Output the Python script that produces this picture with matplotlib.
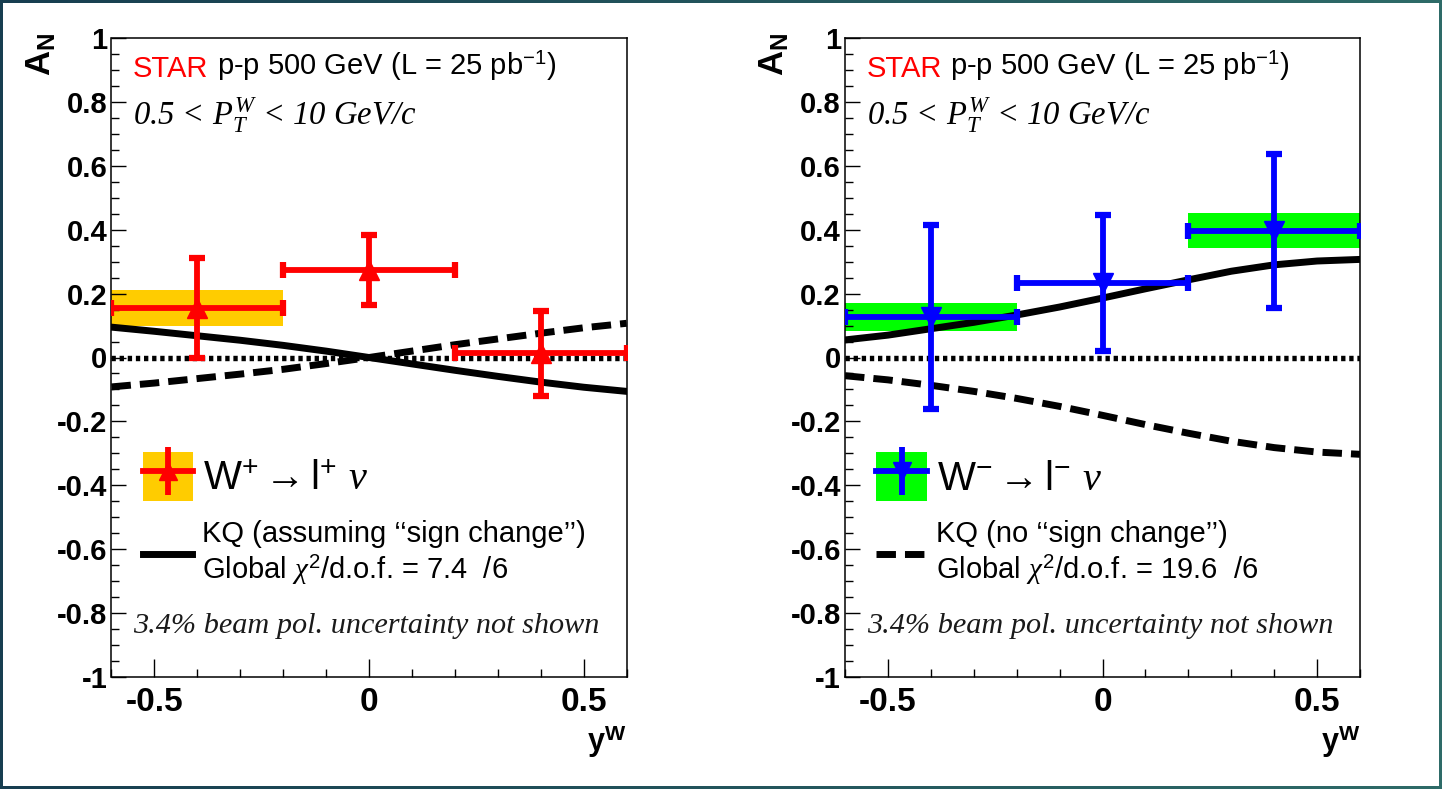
import matplotlib

matplotlib.use("Agg")
import matplotlib.pyplot as plt  # noqa: E402
import numpy as np  # noqa: E402
from matplotlib.colors import LinearSegmentedColormap  # noqa: E402
from matplotlib.lines import Line2D  # noqa: E402
from matplotlib.patches import Patch, Rectangle  # noqa: E402
from matplotlib.ticker import MultipleLocator  # noqa: E402

plt.rcParams["font.family"] = ["Liberation Sans", "DejaVu Sans"]
plt.rcParams["mathtext.fontset"] = "custom"
plt.rcParams["mathtext.rm"] = "Liberation Sans"
plt.rcParams["mathtext.it"] = "Liberation Serif:italic"
plt.rcParams["mathtext.bf"] = "Liberation Sans:bold"
plt.rcParams["axes.unicode_minus"] = False

# W rapidity bins
y_centers = [-0.4, 0.0, 0.4]
y_halfwidth = [0.2, 0.2, 0.2]

# W+ -> l+ nu : A_N, stat. and syst. uncertainties
wp_an = [0.155, 0.274, 0.014]
wp_stat = [0.155, 0.110, 0.133]
wp_sys = [0.055, 0.006, 0.006]

# W- -> l- nu
wm_an = [0.127, 0.233, 0.397]
wm_stat = [0.288, 0.213, 0.241]
wm_sys = [0.045, 0.006, 0.055]

# KQ predictions with / without sign change
kq_rapidity = [-0.6, -0.5, -0.4, -0.3, -0.2, -0.1, 0.0, 0.1, 0.2, 0.3, 0.4, 0.5, 0.6]
wp_kq_sign = [0.095, 0.082, 0.068, 0.054, 0.038, 0.020, 0.000,
              -0.020, -0.040, -0.059, -0.077, -0.093, -0.106]
wp_kq_nosign = [-0.092, -0.080, -0.066, -0.052, -0.037, -0.019, 0.000,
                0.020, 0.040, 0.058, 0.076, 0.093, 0.107]
wm_kq_sign = [0.055, 0.070, 0.090, 0.110, 0.133, 0.158, 0.186,
              0.215, 0.243, 0.270, 0.290, 0.302, 0.307]
wm_kq_nosign = [-0.057, -0.070, -0.087, -0.106, -0.128, -0.153, -0.181,
                -0.210, -0.237, -0.262, -0.282, -0.296, -0.303]

x_ticks = [-0.5, 0.0, 0.5]
x_tick_labels = ["-0.5", "0", "0.5"]
y_ticks = [-1.0, -0.8, -0.6, -0.4, -0.2, 0.0, 0.2, 0.4, 0.6, 0.8, 1.0]
y_tick_labels = ["-1", "-0.8", "-0.6", "-0.4", "-0.2", "0", "0.2", "0.4", "0.6", "0.8", "1"]

W, H = 1442, 789


def draw_panel(ax, an, stat, sys, color, marker, band, sign, nosign,
               boson_label, kq_label, kq_dashed):
    an = np.asarray(an)
    sys = np.asarray(sys)
    ax.bar(y_centers, 2 * sys, width=2 * np.asarray(y_halfwidth), bottom=an - sys,
           color=band, linewidth=0, zorder=1)
    solid, = ax.plot(kq_rapidity, sign, color="black", lw=5.0, zorder=2)
    dashed, = ax.plot(kq_rapidity, nosign, color="black", lw=5.0,
                      ls=(0, (2.8, 1.3)), zorder=2)
    ax.axhline(0, color="black", lw=3.9, ls=(0, (0.8, 0.7)), zorder=2)
    ax.errorbar(y_centers, an, xerr=y_halfwidth, yerr=stat, fmt=marker, color=color,
                ms=14, elinewidth=4.2, capsize=6.0, capthick=4.5, zorder=3)

    ax.set_xlim(-0.6, 0.6)
    ax.set_ylim(-1, 1)
    ax.set_xticks(x_ticks, x_tick_labels, fontsize=24, fontweight="bold")
    ax.set_yticks(y_ticks, y_tick_labels, fontsize=21, fontweight="bold")
    ax.xaxis.set_minor_locator(MultipleLocator(0.1))
    ax.yaxis.set_minor_locator(MultipleLocator(0.05))
    ax.tick_params(which="both", direction="in", width=1.0, top=False, right=False)
    ax.tick_params(axis="x", which="major", length=13, pad=7)
    ax.tick_params(axis="x", which="minor", length=5.8)
    ax.tick_params(axis="y", which="major", length=10.8, pad=3)
    ax.tick_params(axis="y", which="minor", length=5.8)
    for sp in ax.spines.values():
        sp.set_linewidth(1.1)

    ax.set_ylabel(r"A$_{\mathbf{N}}$", loc="top", fontsize=25, fontweight="bold")
    ax.yaxis.set_label_coords(-0.104, 1.008)
    ax.set_xlabel(r"y$^{\mathbf{W}}$", loc="right", fontsize=22, fontweight="bold")
    ax.xaxis.set_label_coords(1.0, -0.072)

    star = ax.text(0.042, 0.939, "STAR", color="red", fontsize=21,
                   transform=ax.transAxes, va="baseline")
    ax.annotate(r" p-p 500 GeV (L = 25 pb$^{-1}$)", xy=(1, 0), xycoords=star,
                ha="left", va="bottom", fontsize=21)
    ax.text(0.042, 0.864, r"0.5 < $P_{T}^{W}$ < 10 GeV/c", transform=ax.transAxes,
            family="Liberation Serif", style="italic", fontsize=23.5, va="baseline")
    ax.text(0.042, 0.069, "3.4% beam pol. uncertainty not shown", transform=ax.transAxes,
            family="Liberation Serif", style="italic", fontsize=21.8, va="baseline",
            color="#1a1a1a")

    key = (Patch(facecolor=band, edgecolor="none"),
           Line2D([], [], color=color, lw=4.2, marker=marker, ms=13),
           Line2D([], [], ls="none", color=color, marker="|", ms=35, mew=4.2))
    leg = ax.legend([key], [boson_label], loc="center left",
                    bbox_to_anchor=(0.061, 0.314), fontsize=29, handlelength=1.25,
                    handleheight=1.5, handletextpad=0.25, frameon=False,
                    borderpad=0, borderaxespad=0)
    ax.add_artist(leg)
    ax.legend([dashed if kq_dashed else solid], [kq_label], loc="center left",
              bbox_to_anchor=(0.061, 0.194), fontsize=21, handlelength=1.7,
              handletextpad=0.34, frameon=False, borderpad=0, borderaxespad=0)


fig = plt.figure(figsize=(W / 100, H / 100), dpi=100)

# slide frame around the figure
bg = fig.add_axes([0, 0, 1, 1], zorder=-10)
frame_cmap = LinearSegmentedColormap.from_list("frame", ["#173e50", "#2e6b68"])
bg.imshow(np.linspace(0, 1, 256)[None, :], cmap=frame_cmap, aspect="auto",
          extent=[0, 1, 0, 1])
bg.add_patch(Rectangle((3 / W, 3 / H), 1 - 6 / W, 1 - 6 / H,
                       facecolor="white", edgecolor="none"))
bg.set_xlim(0, 1)
bg.set_ylim(0, 1)
bg.set_axis_off()

ax_l = fig.add_axes([111.5 / W, 112 / H, 515 / W, 639 / H])
ax_r = fig.add_axes([845 / W, 112 / H, 515 / W, 639 / H])

draw_panel(ax_l, wp_an, wp_stat, wp_sys, "#ff0000", "^", "#ffcc00",
           wp_kq_sign, wp_kq_nosign,
           r"W$^{+}\rightarrow$l$^{+}$ $\nu$",
           "KQ (assuming \u2018\u2018sign change\u2019\u2019)\n"
           r"Global $\chi^{2}$/d.o.f. = 7.4  /6",
           kq_dashed=False)
draw_panel(ax_r, wm_an, wm_stat, wm_sys, "#0000ff", "v", "#00ff00",
           wm_kq_sign, wm_kq_nosign,
           r"W$^{-}\rightarrow$l$^{-}$ $\nu$",
           "KQ (no \u2018\u2018sign change\u2019\u2019)\n"
           r"Global $\chi^{2}$/d.o.f. = 19.6  /6",
           kq_dashed=True)

fig.savefig("out.png", dpi=100)
plt.close(fig)
